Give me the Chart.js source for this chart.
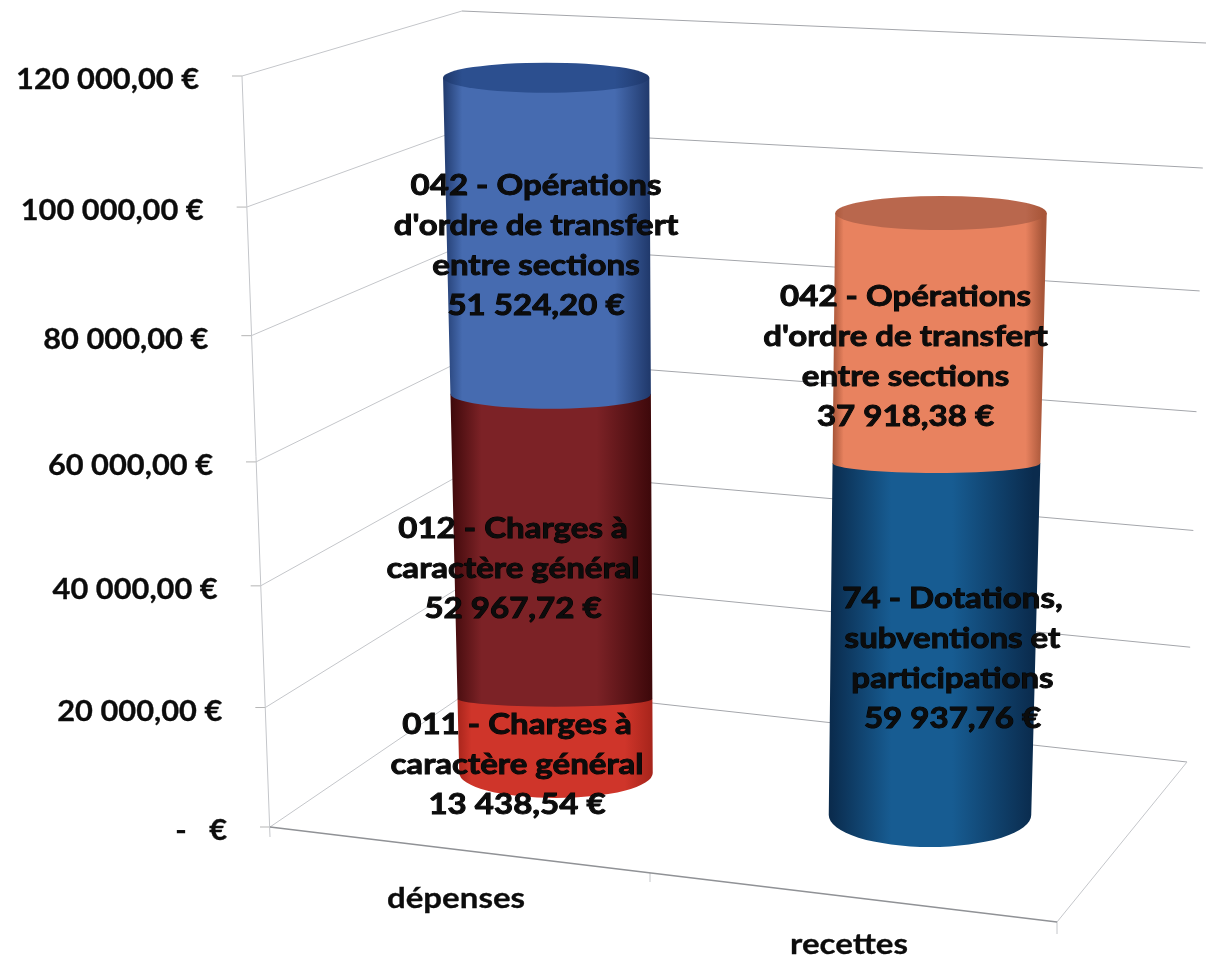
<!DOCTYPE html>
<html lang="fr">
<head>
  <meta charset="UTF-8">
  <title>Dépenses et recettes</title>
  <script src="https://cdn.jsdelivr.net/npm/chart.js"></script>
  <style>
    html, body { margin: 0; padding: 0; background: #fff; }
    canvas { display: block; filter: blur(0.7px); }
  </style>
</head>

<body>
  <canvas id="chart" width="1206" height="959"></canvas>

  <script>
    // Données
    const categories = ['dépenses', 'recettes'];
    const chap011 = [13438.54, null];
    const chap012 = [52967.72, null];
    const chap042Dep = [51524.20, null];
    const chap74 = [null, 59937.76];
    const chap042Rec = [null, 37918.38];
    const yTickValues = [0, 20000, 40000, 60000, 80000, 100000, 120000];
    const yTickLabels = ['-   €', '20 000,00 €', '40 000,00 €', '60 000,00 €', '80 000,00 €', '100 000,00 €', '120 000,00 €'];

    const label011 = ['011 - Charges à', 'caractère général', '13 438,54 €'];
    const label012 = ['012 - Charges à', 'caractère général', '52 967,72 €'];
    const label042Dep = ["042 - Opérations", "d'ordre de transfert", 'entre sections', '51 524,20 €'];
    const label74 = ['74 - Dotations,', 'subventions et', 'participations', '59 937,76 €'];
    const label042Rec = ["042 - Opérations", "d'ordre de transfert", 'entre sections', '37 918,38 €'];

    const FONT = 'bold 29px Lato, "Open Sans", sans-serif';
    const TICK_FONT = 'bold 28px Lato, "Open Sans", sans-serif';

    // perspective : les graduations se resserrent vers le bas
    function depth(d, c) {
      return d * (1 - c) / (1 - c * d);
    }

    // axe linéaire avec la déformation de la vue 3D
    class DepthScale extends Chart.LinearScale {
      static id = 'depth';
      getPixelForValue(value) {
        const o = this.options;
        return o.y0 + (o.y1 - o.y0) * depth(value / this.max, o.depth);
      }
    }
    Chart.register(DepthScale);

    // inclinaison et rétrécissement de chaque cylindre
    const lean = [0.0141, -0.0183];
    const taper = [-0.0184, -0.015];
    const topDepth = [15, 17];

    function sideGradient(ctx, x0, x1, edge, center, stops) {
      const g = ctx.createLinearGradient(x0, 0, x1, 0);
      g.addColorStop(0, edge);
      g.addColorStop(stops[0], center);
      g.addColorStop(stops[1], center);
      g.addColorStop(1, edge);
      return g;
    }

    // texte élargi : la police du graphique d'origine est plus large que Lato
    function wideText(ctx, text, x, y, sx, stroke) {
      ctx.save();
      ctx.translate(x, y);
      ctx.scale(sx, 1);
      if (stroke) {
        ctx.lineWidth = stroke;
        ctx.strokeText(text, 0, 0);
      }
      ctx.fillText(text, 0, 0);
      ctx.restore();
    }

    function drawWalls(chart) {
      const ctx = chart.ctx;
      const y = chart.scales.y;
      const wall = (t) => ({
        ax: 270 - 28 * t,
        ay: y.getPixelForValue(t * 120000),
        cx: 480 - 18 * t,
        cy: 684 - 673 * depth(t, 0.05),
        rx: 1187 + 19 * t,
        ry: 762 - 719 * depth(t, 0.05)
      });
      ctx.save();
      ctx.lineWidth = 1;
      yTickValues.forEach((v) => {
        const p = wall(v / 120000);
        ctx.strokeStyle = '#c4c6ca';
        ctx.beginPath();
        ctx.moveTo(p.ax, p.ay);
        ctx.lineTo(p.cx, p.cy);
        ctx.stroke();
        ctx.strokeStyle = '#a4a6ab';
        ctx.beginPath();
        ctx.moveTo(p.cx, p.cy);
        ctx.lineTo(p.rx, p.ry);
        ctx.stroke();
        ctx.strokeStyle = '#b5b5b5';
        ctx.beginPath();
        ctx.moveTo(p.ax - 10, p.ay);
        ctx.lineTo(p.ax, p.ay);
        ctx.stroke();
      });
      const bottom = wall(0), top = wall(1);
      ctx.strokeStyle = '#c4c6ca';
      ctx.beginPath();
      ctx.moveTo(top.ax, top.ay);
      ctx.lineTo(bottom.ax, bottom.ay + 10);
      ctx.moveTo(bottom.rx, bottom.ry);
      ctx.lineTo(1057, 922);
      ctx.lineTo(1057, 934);
      ctx.moveTo(650, 873);
      ctx.lineTo(650, 882);
      ctx.stroke();
      ctx.strokeStyle = '#909296';
      ctx.lineWidth = 1.3;
      ctx.beginPath();
      ctx.moveTo(bottom.ax, bottom.ay);
      ctx.lineTo(1057, 922);
      ctx.stroke();
      ctx.restore();
    }

    function drawCylinders(chart) {
      const ctx = chart.ctx;
      chart.data.datasets.forEach((ds, d) => {
        chart.getDatasetMeta(d).data.forEach((el, i) => {
          if (ds.data[i] === null) return;
          const { x, y, base, width } = el.getProps(['x', 'y', 'base', 'width'], true);
          const scale = chart.scales[ds.yAxisID];
          const mid = (scale.getPixelForValue(0) + scale.getPixelForValue(scale.max)) / 2;
          const cx = (py) => x + lean[i] * (py - mid);
          const w = (py) => width + taper[i] * (py - mid);
          const xMin = cx(y) - w(y) / 2 - 2;
          const xMax = cx(base) + w(base) / 2 + 2;

          ctx.beginPath();
          ctx.moveTo(cx(y) - w(y) / 2, y);
          ctx.lineTo(cx(base) - w(base) / 2, base);
          ctx.ellipse(cx(base), base, w(base) / 2, ds.arc, 0, Math.PI, 0, true);
          ctx.lineTo(cx(y) + w(y) / 2, y);
          ctx.closePath();
          ctx.fillStyle = sideGradient(ctx, xMin, xMax, ds.edgeColor, ds.backgroundColor, ds.stops);
          ctx.fill();

          if (ds.topColor) {
            ctx.beginPath();
            ctx.ellipse(cx(y), y, w(y) / 2, topDepth[i], 0, 0, Math.PI * 2);
            ctx.fillStyle = sideGradient(ctx, xMin, xMax, ds.edgeColor, ds.topColor, ds.stops);
            ctx.fill();
          }
        });
      });
    }

    function drawTexts(chart) {
      const ctx = chart.ctx;
      ctx.save();
      ctx.font = TICK_FONT;
      ctx.fillStyle = '#0c0c0c';
      ctx.strokeStyle = '#0c0c0c';
      ctx.textBaseline = 'middle';

      // étiquettes de l'axe des valeurs
      ctx.textAlign = 'right';
      yTickValues.forEach((v, i) => {
        const t = v / 120000;
        wideText(ctx, yTickLabels[i], 227 - 28 * t, chart.scales.y.getPixelForValue(v) + 4, 1.1, 0.3);
      });

      // catégories, décalées comme dans la vue 3D
      ctx.font = FONT;
      ctx.textAlign = 'center';
      wideText(ctx, categories[0], 456, 899, 1.14, 0.3);
      wideText(ctx, categories[1], 849, 945, 1.14, 0.3);

      // étiquettes de données
      ctx.strokeStyle = '#000';
      chart.data.datasets.forEach((ds, d) => {
        chart.getDatasetMeta(d).data.forEach((el, i) => {
          if (ds.data[i] === null) return;
          const cx = el.x + ds.nudge[0];
          const cy = (el.y + el.base) / 2 + ds.nudge[1];
          ds.textLines.forEach((line, n) => {
            const ly = cy + (n - (ds.textLines.length - 1) / 2) * 40;
            wideText(ctx, line, cx, ly, 1.14, 0.9);
          });
        });
      });
      ctx.restore();
    }

    const cylinderPlugin = {
      id: 'cylinders',
      beforeDatasetsDraw(chart) {
        drawWalls(chart);
        drawCylinders(chart);
        drawTexts(chart);
        return false;
      }
    };

    new Chart(document.getElementById('chart'), {
      type: 'bar',
      data: {
        labels: categories,
        datasets: [
          { label: '011 - Charges à caractère général', data: chap011, yAxisID: 'yDep', barThickness: 200, arc: 25,
            backgroundColor: '#cf352a', edgeColor: '#a3231a', stops: [0.08, 0.85], nudge: [-34, 29], textLines: label011 },
          { label: '012 - Charges à caractère général', data: chap012, yAxisID: 'yDep', barThickness: 200, arc: 8,
            backgroundColor: '#7c2226', edgeColor: '#3a0709', stops: [0.16, 0.72], nudge: [-38, 22], textLines: label012 },
          { label: "042 - Opérations d'ordre de transfert entre sections", data: chap042Dep, yAxisID: 'yDep', barThickness: 200, arc: 15,
            backgroundColor: '#466bb0', edgeColor: '#1d3566', topColor: '#2c4f8f', stops: [0.1, 0.82], nudge: [-15, 10], textLines: label042Dep },
          { label: '74 - Dotations, subventions et participations', data: chap74, yAxisID: 'yRec', barThickness: 207, arc: 32,
            backgroundColor: '#175c92', edgeColor: '#0a2b4d', stops: [0.3, 0.6], nudge: [17, 20], textLines: label74 },
          { label: "042 - Opérations d'ordre de transfert entre sections", data: chap042Rec, yAxisID: 'yRec', barThickness: 207, arc: 10,
            backgroundColor: '#e8825f', edgeColor: '#a9573a', topColor: '#b9674d', stops: [0.05, 0.92], nudge: [-30, 19], textLines: label042Rec }
        ]
      },
      options: {
        responsive: false,
        animation: false,
        layout: { padding: { left: 358.75, right: 78.25, top: 0, bottom: 0 } },
        plugins: { legend: { display: false }, tooltip: { enabled: false } },
        scales: {
          x: { display: false, stacked: true, offset: true },
          y: { type: 'depth', display: false, min: 0, max: 120000, y0: 827, y1: 76, depth: 0.054 },
          yDep: { type: 'depth', display: false, stacked: true, min: 0, max: 119930.46, y0: 773, y1: 65, depth: 0.07 },
          yRec: { type: 'depth', display: false, stacked: true, min: 0, max: 97856.14, y0: 815, y1: 213, depth: 0.109 }
        }
      },
      plugins: [cylinderPlugin]
    });
  </script>
</body>
</html>
